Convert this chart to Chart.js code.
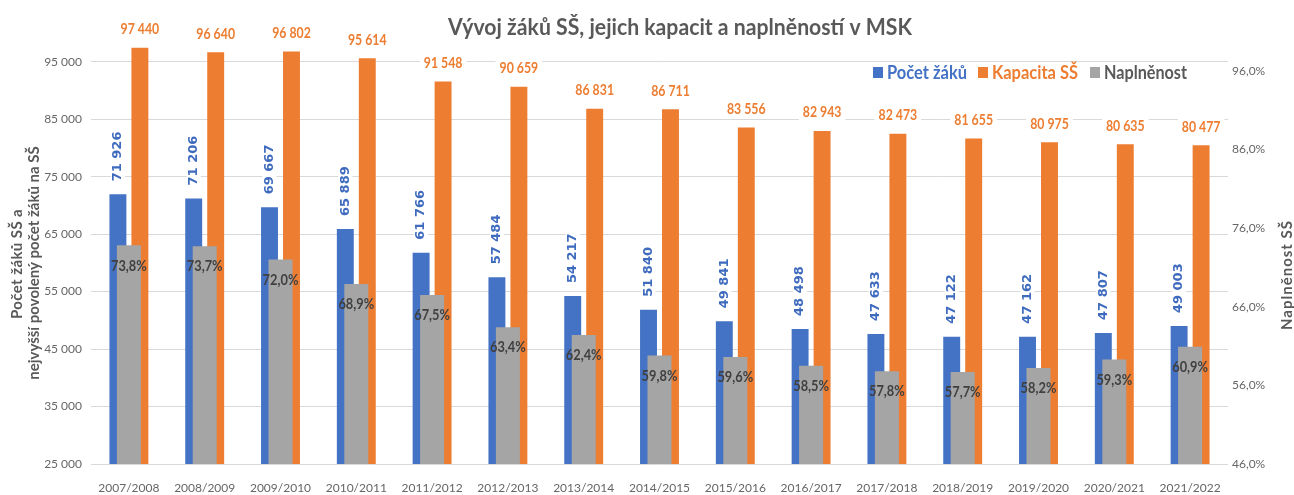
<!DOCTYPE html>
<html>
<head>
<meta charset="utf-8">
<script src="https://cdn.jsdelivr.net/npm/chart.js@4.4.1/dist/chart.umd.min.js"></script>
<style>
html,body{margin:0;padding:0;background:#fff;}
#wrap{width:1294px;height:495px;position:relative;}
</style>
</head>
<body>
<div id="wrap"><canvas id="c" width="1294" height="495"></canvas></div>
<script>
const categories = ['2007/2008','2008/2009','2009/2010','2010/2011','2011/2012','2012/2013','2013/2014','2014/2015','2015/2016','2016/2017','2017/2018','2018/2019','2019/2020','2020/2021','2021/2022'];
const pocetZaku = [71926,71206,69667,65889,61766,57484,54217,51840,49841,48498,47633,47122,47162,47807,49003];
const kapacitaSS = [97440,96640,96802,95614,91548,90659,86831,86711,83556,82943,82473,81655,80975,80635,80477];
const naplnenost = [73.8,73.7,72.0,68.9,67.5,63.4,62.4,59.8,59.6,58.5,57.8,57.7,58.2,59.3,60.9];
const leftTicks = [25000,35000,45000,55000,65000,75000,85000,95000];
const rightTicks = [46,56,66,76,86,96];
const titleText = 'Vývoj žáků SŠ, jejich kapacit a naplněností v MSK';
const leftAxisTitle = ['Počet žáků SŠ a','nejvyšší povolený počet žáků na SŠ'];
const rightAxisTitle = 'Naplněnost SŠ';
const seriesNames = ['Počet žáků','Kapacita SŠ','Naplněnost'];

const BLUE = '#4472C4', ORANGE = '#ED7D31', GRAY = '#A5A5A5';
const TEXT = '#595959';

function fmtNum(v){ return String(Math.round(v)).replace(/\B(?=(\d{3})+(?!\d))/g,' '); }
function fmtPct(v){ return Number(v).toFixed(1).replace('.',',') + '%'; }

function drawFit(ctx, txt, x, y, font, color, align, targetW, sx){
  ctx.save();
  ctx.font = font;
  const w = ctx.measureText(txt).width;
  let s = sx || 1;
  if (targetW) s = targetW / w;
  ctx.translate(x, y);
  ctx.scale(s, 1);
  ctx.fillStyle = color;
  ctx.textAlign = align || 'left';
  ctx.textBaseline = 'middle';
  ctx.fillText(txt, 0, 0);
  ctx.restore();
  return w * s;
}

function drawVertical(ctx, txt, x, y, font, color, spacing){
  ctx.save();
  ctx.translate(x, y);
  ctx.rotate(-Math.PI/2);
  ctx.font = font;
  if (spacing) ctx.letterSpacing = spacing;
  ctx.fillStyle = color;
  ctx.textAlign = 'center';
  ctx.textBaseline = 'middle';
  ctx.fillText(txt, 0, 0);
  ctx.restore();
}

const decorPlugin = {
  id: 'decor',
  afterDatasetsDraw(chart){
    const ctx = chart.ctx;
    const mb = chart.getDatasetMeta(0), mo = chart.getDatasetMeta(1), mg = chart.getDatasetMeta(2);
    // blue rotated labels
    mb.data.forEach((bar, i) => {
      const txt = fmtNum(pocetZaku[i]);
      ctx.save();
      ctx.font = 'bold 13px "DejaVu Sans"';
      const w = ctx.measureText(txt).width;
      ctx.translate(bar.x, bar.y - 13);
      ctx.rotate(-Math.PI/2);
      ctx.fillStyle = '#fff';
      ctx.fillRect(-2, -7, w + 4, 14);
      ctx.fillStyle = '#3F6BBE';
      ctx.textAlign = 'left';
      ctx.textBaseline = 'middle';
      ctx.fillText(txt, 0, 0);
      ctx.restore();
    });
    // orange labels
    mo.data.forEach((bar, i) => {
      const txt = fmtNum(kapacitaSS[i]);
      ctx.save();
      ctx.font = 'bold 15px Lato';
      const w = ctx.measureText(txt).width * 0.82;
      ctx.fillStyle = '#fff';
      ctx.fillRect(bar.x - w/2 - 4, bar.y - 18.5 - 8, w + 8, 16);
      ctx.restore();
      drawFit(ctx, txt, bar.x, bar.y - 18.5, 'bold 15px Lato', ORANGE, 'center', null, 0.82);
    });
    // gray labels
    mg.data.forEach((bar, i) => {
      drawFit(ctx, fmtPct(naplnenost[i]), bar.x, bar.y + 20, 'bold 16px Lato', '#404040', 'center', null, 0.8);
    });
  },
  afterDraw(chart){
    const ctx = chart.ctx;
    // title
    drawFit(ctx, titleText, 680, 28, 'bold 22px Lato', TEXT, 'center', 464);
    // legend
    const items = [
      {sq:873, tx:887, w:80, color:BLUE, txtColor:BLUE, name:seriesNames[0]},
      {sq:978, tx:992, w:86, color:ORANGE, txtColor:ORANGE, name:seriesNames[1]},
      {sq:1090, tx:1104, w:83, color:GRAY, txtColor:TEXT, name:seriesNames[2]}
    ];
    items.forEach(it => {
      ctx.fillStyle = it.color;
      ctx.fillRect(it.sq, 67, 10, 11);
      drawFit(ctx, it.name, it.tx, 73, 'bold 18px Lato', it.txtColor, 'left', it.w);
    });
    // left axis title
    drawVertical(ctx, leftAxisTitle[0], 17.5, 264, 'bold 15px Lato', TEXT, '0.4px');
    drawVertical(ctx, leftAxisTitle[1], 34, 263, 'bold 15px Lato', TEXT, null);
    // right axis title
    drawVertical(ctx, rightAxisTitle, 1287, 275, 'bold 15px Lato', TEXT, '1px');
  }
};

new Chart(document.getElementById('c'), {
  type: 'bar',
  data: {
    labels: categories,
    datasets: [
      {label: seriesNames[0], data: pocetZaku, backgroundColor: BLUE, yAxisID: 'y', order: 1, barPercentage: 0.77, categoryPercentage: 0.58},
      {label: seriesNames[1], data: kapacitaSS, backgroundColor: ORANGE, yAxisID: 'y', order: 2, barPercentage: 0.77, categoryPercentage: 0.58},
      {label: seriesNames[2], data: naplnenost, backgroundColor: GRAY, yAxisID: 'y1', order: 0, grouped: false, barPercentage: 0.317, categoryPercentage: 1}
    ]
  },
  options: {
    responsive: false,
    animation: false,
    devicePixelRatio: 1,
    layout: {padding: {top: 33, left: 0, right: 0, bottom: 0}},
    plugins: {legend: {display: false}, title: {display: false}, tooltip: {enabled: false}},
    scales: {
      x: {
        type: 'category', position: 'bottom', offset: true,
        grid: {display: false, drawTicks: false}, border: {display: false},
        ticks: {font: {family: 'Lato', size: 12}, color: '#666', padding: 17, maxRotation: 0, autoSkip: false},
        afterFit(s){ s.height = 31; }
      },
      y: {
        position: 'left', min: 25000, max: 100000,
        afterBuildTicks(s){ s.ticks = leftTicks.map(v => ({value: v})); },
        grid: {color: '#D9D9D9', drawTicks: false, lineWidth: 1}, border: {display: false},
        ticks: {padding: 9, font: {family: 'Lato', size: 12}, color: '#666', callback: v => fmtNum(v)},
        afterFit(s){ s.width = 91; }
      },
      y1: {
        position: 'right', min: 46, max: 100.8,
        afterBuildTicks(s){ s.ticks = rightTicks.map(v => ({value: v})); },
        grid: {display: false, drawTicks: false}, border: {display: false},
        ticks: {padding: 4, font: {family: 'Lato', size: 12}, color: '#666', callback: v => fmtPct(v)},
        afterFit(s){ s.width = 66; }
      }
    }
  },
  plugins: [decorPlugin]
});
</script>
</body>
</html>
